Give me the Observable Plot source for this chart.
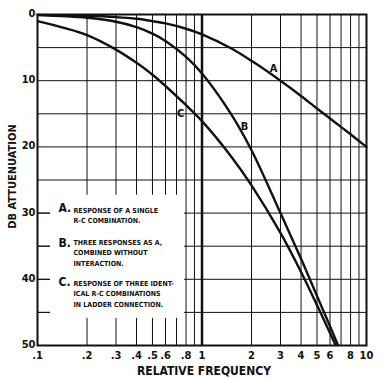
<!DOCTYPE html>
<html>
<head>
<meta charset="utf-8">
<script src="https://cdn.jsdelivr.net/npm/d3@7"></script>
<script src="https://cdn.jsdelivr.net/npm/@observablehq/plot@0.6"></script>
<style>
  html, body { margin: 0; padding: 0; background: #fff; }
  #chart svg { display: block; }
</style>
</head>
<body>
<div id="chart"></div>
<script>
// ---- data ----
const freqA = [0.1, 0.2, 0.3, 0.4, 0.5, 0.6, 0.8, 1, 1.5, 2, 3, 4, 5, 6, 8, 10];
const dbA   = [0.05, 0.2, 0.4, 0.65, 1.0, 1.35, 2.15, 3.0, 5.1, 7.0, 10.0, 12.3, 14.2, 15.7, 18.1, 20.0];

const freqB = [0.1, 0.2, 0.3, 0.4, 0.5, 0.6, 0.8, 1, 1.5, 2, 3, 4, 5, 6, 6.8];
const dbB   = [0.1, 0.5, 1.1, 1.9, 2.9, 4.0, 6.4, 8.9, 15.0, 20.5, 30.0, 36.9, 42.5, 47.1, 50.3];

const freqC = [0.1, 0.2, 0.3, 0.4, 0.5, 0.6, 0.8, 1, 1.5, 2, 3, 4, 5, 6, 6.5];
const dbC   = [1.0, 3.1, 5.3, 7.3, 9.1, 10.8, 13.7, 16.1, 21.4, 25.8, 33.0, 38.9, 43.9, 48.1, 50.0];

const xTicks = [0.1, 0.2, 0.3, 0.4, 0.5, 0.6, 0.8, 1, 2, 3, 4, 5, 6, 8, 10];
const xTickLabels = [".1", ".2", ".3", ".4", ".5", ".6", ".8", "1", "2", "3", "4", "5", "6", "8", "10"];
const xGrid = [0.2, 0.3, 0.4, 0.5, 0.6, 0.7, 0.8, 0.9, 2, 3, 4, 5, 6, 7, 8, 9];
const xMajor = [1];
const yTicks = [0, 10, 20, 30, 40, 50];
const yGrid = [5, 10, 15, 20, 25, 30, 35, 40, 45];
const yStubs = [30, 35, 40, 45];

const curveLetters = ["A", "B", "C"];
const legendLetters = ["A.", "B.", "C."];
const legendTexts = [
  "RESPONSE OF A SINGLE\nR-C COMBINATION.",
  "THREE RESPONSES AS A,\nCOMBINED WITHOUT\nINTERACTION.",
  "RESPONSE OF THREE IDENT-\nICAL R-C COMBINATIONS\nIN LADDER CONNECTION."
];
const xTitle = "RELATIVE FREQUENCY";
const yTitle = "DB ATTUENUATION";

const toRows = (fs, ds) => fs.map((f, i) => ({f, db: ds[i]}));
const rowsA = toRows(freqA, dbA), rowsB = toRows(freqB, dbB), rowsC = toRows(freqC, dbC);
const xTickRows = xTicks.map((v, i) => ({v, label: xTickLabels[i]}));

const FONT = "DejaVu Sans Condensed, DejaVu Sans, sans-serif";
const INK = "#111";

// pixel offsets (from frame top-left) of the annotations
const curveLabelPos = [[236, 54], [207, 112], [143, 99]];
const letterPos = [[21, 189], [21, 224], [21, 263]];
const textPos = [[36, 191], [36, 223], [36, 264]];

const marks = [
  Plot.ruleX(xGrid, {stroke: INK, strokeWidth: 1}),
  Plot.ruleX(xMajor, {stroke: INK, strokeWidth: 2.5}),
  Plot.ruleY(yGrid, {stroke: INK, strokeWidth: 1}),
  // cleared legend area
  Plot.rect([0], {x1: 0.12, x2: 0.783, y1: 27.3, y2: 45.9, fill: "white"}),
  Plot.ruleY(yStubs, {x1: 0.1, x2: 0.12, stroke: INK, strokeWidth: 1}),
  Plot.line(rowsA, {x: "f", y: "db", curve: "catmull-rom", stroke: INK, strokeWidth: 2.4}),
  Plot.line(rowsB, {x: "f", y: "db", curve: "catmull-rom", stroke: INK, strokeWidth: 2.4, clip: true}),
  Plot.line(rowsC, {x: "f", y: "db", curve: "catmull-rom", stroke: INK, strokeWidth: 2.4, clip: true}),
  Plot.frame({stroke: INK, strokeWidth: 2}),
  Plot.text(xTickRows, {x: "v", text: "label", frameAnchor: "bottom", dy: 5.5, lineAnchor: "top",
    fontSize: 11, fontWeight: "bold", fontFamily: FONT, fill: INK}),
  Plot.axisY({ticks: yTicks, tickSize: 0, tickPadding: 2, dy: -1, label: null,
    fontSize: 11, fontWeight: "bold", fontFamily: FONT, fill: INK}),
  Plot.text([xTitle], {frameAnchor: "bottom", dx: 2, dy: 26, lineAnchor: "middle",
    fontSize: 12, fontWeight: 600, fontFamily: FONT, fill: INK}),
  Plot.text([yTitle], {frameAnchor: "top-left", dx: -25, dy: 162, rotate: -90, textAnchor: "middle", lineAnchor: "middle",
    fontSize: 11, fontWeight: 600, fontFamily: FONT, fill: INK}),
];

curveLetters.forEach((t, i) => {
  marks.push(Plot.text([t], {frameAnchor: "top-left", dx: curveLabelPos[i][0], dy: curveLabelPos[i][1],
    textAnchor: "middle", lineAnchor: "middle", fontSize: 11, fontWeight: "bold", fontFamily: FONT, fill: INK}));
});
legendLetters.forEach((t, i) => {
  marks.push(Plot.text([t], {frameAnchor: "top-left", dx: letterPos[i][0], dy: letterPos[i][1],
    textAnchor: "start", lineAnchor: "top", fontSize: 12, fontWeight: "bold", fontFamily: FONT, fill: INK}));
});
legendTexts.forEach((t, i) => {
  marks.push(Plot.text([t], {frameAnchor: "top-left", dx: textPos[i][0], dy: textPos[i][1],
    textAnchor: "start", lineAnchor: "top", lineHeight: 1.5, fontSize: 7, fontWeight: "bold", fontFamily: FONT, fill: INK}));
});

const chart = Plot.plot({
  width: 385,
  height: 378,
  marginLeft: 37,
  marginRight: 19,
  marginTop: 14,
  marginBottom: 33,
  style: {fontFamily: FONT, background: "white", color: INK},
  x: {type: "log", domain: [0.1, 10], axis: null},
  y: {domain: [0, 50], reverse: true},
  marks
});
document.getElementById("chart").appendChild(chart);
</script>
</body>
</html>
